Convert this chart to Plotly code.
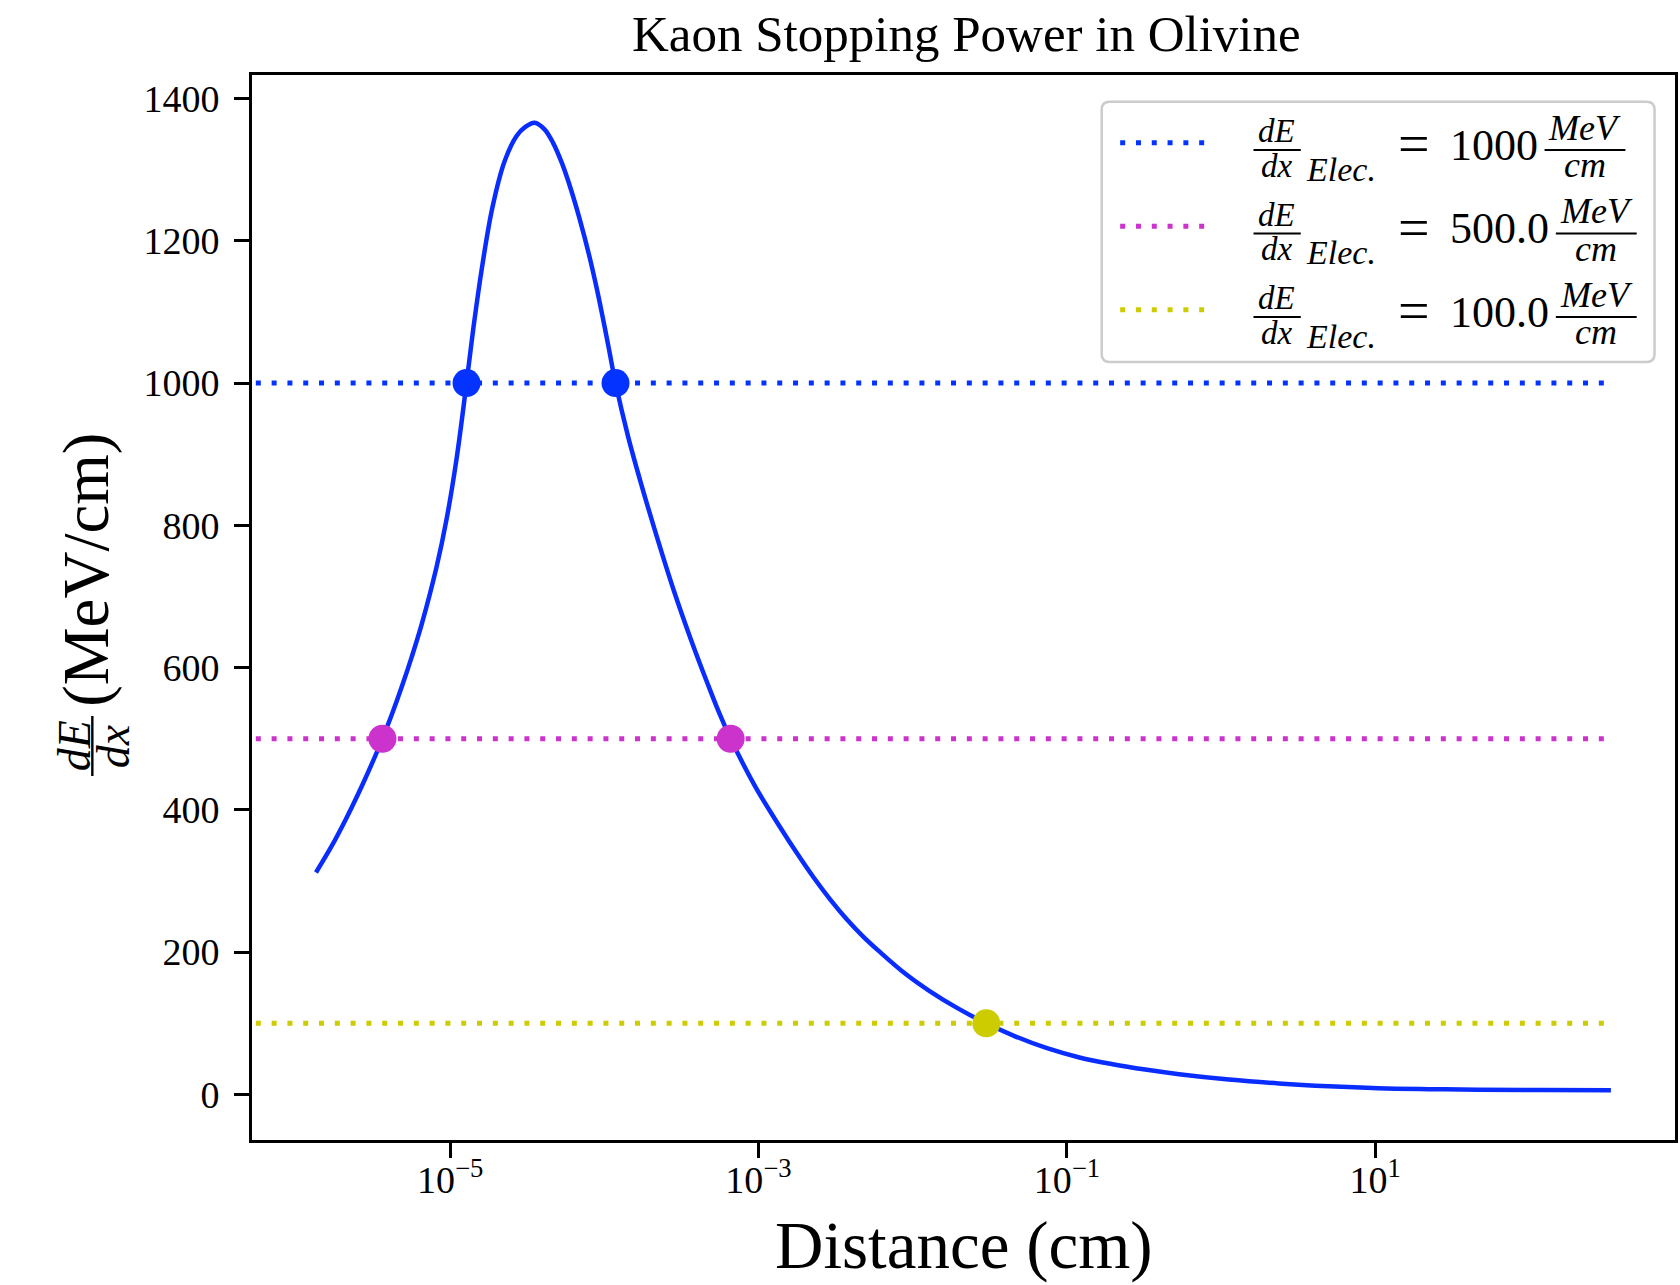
import plotly.graph_objects as go

# ---------------- data ----------------
distance_cm = [1.349e-6, 1.714e-6, 2.064e-6, 2.307e-6, 2.695e-6, 3.110e-6, 3.640e-6, 4.186e-6,
               4.857e-6, 5.637e-6, 6.544e-6, 8.180e-6, 9.493e-6, 1.102e-5, 1.278e-5, 1.419e-5,
               1.622e-5, 1.882e-5, 2.250e-5, 2.691e-5, 3.076e-5, 3.533e-5, 4.083e-5, 4.645e-5,
               5.336e-5, 6.100e-5, 6.975e-5, 8.011e-5, 8.851e-5, 9.779e-5, 1.074e-4, 1.183e-4,
               1.426e-4, 1.730e-4, 2.214e-4, 2.838e-4, 3.640e-4, 4.667e-4, 5.521e-4, 6.602e-4,
               9.576e-4, 1.389e-3, 1.779e-3, 2.281e-3, 2.924e-3, 3.750e-3, 4.779e-3, 6.156e-3,
               8.931e-3, 1.296e-2, 1.966e-2, 3.004e-2, 4.661e-2, 7.357e-2, 0.1208, 0.1983,
               0.3226, 0.5353, 1.126, 2.371, 4.991, 10.50, 22.11, 46.53, 122.4, 338.3]
dEdx_MeV_per_cm = [312, 350, 383, 404, 435, 465, 500, 534,
                   573, 615, 661, 742, 809, 894, 1000, 1079,
                   1167, 1247, 1311, 1347, 1360, 1366, 1357, 1338,
                   1308, 1271, 1228, 1178, 1137, 1092, 1047, 1000,
                   925, 859, 781, 707, 640, 578, 538, 500,
                   432, 375, 339, 305, 274, 246, 222, 200,
                   170, 145, 121, 100, 81.4, 65.4, 52, 42.5,
                   35, 28.5, 21, 15.5, 11.5, 8.8, 7.5, 6.7, 6.2, 6.0]

threshold_values = [1000, 500.0, 100.0]
threshold_labels = ["1000", "500.0", "100.0"]
crossing_distance = [[1.278e-5, 1.183e-4], [3.640e-6, 6.602e-4], [3.004e-2]]

x_tick_vals = [1e-5, 1e-3, 1e-1, 1e1]
x_tick_text = ["10<sup>−5</sup>", "10<sup>−3</sup>", "10<sup>−1</sup>", "10<sup>1</sup>"]
y_tick_vals = [0, 200, 400, 600, 800, 1000, 1200, 1400]

title_text = "Kaon Stopping Power in Olivine"
x_title = "Distance (cm)"
y_title_unit = "(MeV/cm)"

# ---------------- style ----------------
COLORS = ["#0433ff", "#cc33cc", "#cccc00"]
CURVE = "#0a2dff"
FONT = "Liberation Serif"
W, H = 1680, 1285
L, R, T, B = 252, 1678, 75, 1140
X_RANGE = [-6.285, 2.945]
Y_RANGE = [-64, 1433]
DOT = "5px,10.8px"


def fx(p):
    return (p - L) / (R - L)


def fy(p):
    return (B - p) / (B - T)


fig = go.Figure()

# horizontal dotted threshold lines (start beyond the left edge, end at last distance)
x_far_left = 10 ** (X_RANGE[0] - 1)
for v, c in zip(threshold_values, COLORS):
    fig.add_trace(go.Scatter(x=[x_far_left, distance_cm[-1]], y=[v, v], mode="lines",
                             line=dict(color=c, width=5, dash=DOT),
                             showlegend=False, hoverinfo="skip"))

# stopping power curve
fig.add_trace(go.Scatter(x=distance_cm, y=dEdx_MeV_per_cm, mode="lines",
                         line=dict(color=CURVE, width=4.5, shape="spline", smoothing=1.0),
                         showlegend=False))

# crossing markers
for v, xs, c in zip(threshold_values, crossing_distance, COLORS):
    fig.add_trace(go.Scatter(x=xs, y=[v] * len(xs), mode="markers",
                             marker=dict(color=c, size=28, line=dict(width=0)),
                             showlegend=False))

annotations = []
shapes = []


def text(x, y, s, size, xanchor="center", angle=0):
    annotations.append(dict(x=fx(x), y=fy(y), xref="paper", yref="paper", text=s,
                            showarrow=False, xanchor=xanchor, yanchor="middle",
                            textangle=angle, borderpad=0,
                            font=dict(family=FONT, size=size, color="black")))


def hline(x0, x1, y, color="black", width=2.2, dash=None):
    ln = dict(color=color, width=width)
    if dash:
        ln["dash"] = dash
    shapes.append(dict(type="line", xref="paper", yref="paper", x0=fx(x0), x1=fx(x1),
                       y0=fy(y), y1=fy(y), line=ln, layer="above"))


def vline(x, y0, y1, color="black", width=2.4):
    shapes.append(dict(type="line", xref="paper", yref="paper", x0=fx(x), x1=fx(x),
                       y0=fy(y0), y1=fy(y1), line=dict(color=color, width=width), layer="above"))


# ---------------- custom legend ----------------
bx0, bx1, by0, by1, rr = 1103.5, 1657.5, 101.8, 362, 8


def P(x, y):
    return f"{fx(x):.5f},{fy(y):.5f}"


path = (f"M {P(bx0 + rr, by0)} L {P(bx1 - rr, by0)} Q {P(bx1, by0)} {P(bx1, by0 + rr)} "
        f"L {P(bx1, by1 - rr)} Q {P(bx1, by1)} {P(bx1 - rr, by1)} "
        f"L {P(bx0 + rr, by1)} Q {P(bx0, by1)} {P(bx0, by1 - rr)} "
        f"L {P(bx0, by0 + rr)} Q {P(bx0, by0)} {P(bx0 + rr, by0)} Z")
shapes.append(dict(type="path", xref="paper", yref="paper", path=path,
                   fillcolor="rgba(255,255,255,0.8)", line=dict(color="#cccccc", width=2.5),
                   layer="above"))

row_y = [142.7, 226.2, 309.7]
frac_left = [1547.3, 1558.6, 1558.6]
for i, (lab, c) in enumerate(zip(threshold_labels, COLORS)):
    y = row_y[i]
    hline(1122, 1207, y, color=c, width=5, dash=DOT)
    # dE/dx fraction
    text(1278.5, y - 11.5, "<i>dE</i>", 33)
    hline(1255.6, 1303, y + 7.3)
    text(1279, y + 23, "<i>dx</i>", 33)
    text(1307.5, y + 26.5, "<i>Elec.</i>", 34, xanchor="left")
    text(1416.5, y + 1.7, "=", 56)
    text(1451.3, y + 2.5, lab, 44, xanchor="left")
    fl = frac_left[i]
    text(fl + 40.5, y - 14.8, "<i>MeV</i>", 36)
    hline(fl, fl + 81, y + 7.3)
    text(fl + 40.5, y + 22.5, "<i>cm</i>", 36)

# ---------------- y-axis label (rotated) ----------------
text(85.5, 570, y_title_unit, 65, angle=-90)
text(74, 746, "<i>dE</i>", 46, angle=-90)
vline(92, 716, 776)
text(113, 746, "<i>dx</i>", 46, angle=-90)

# ---------------- x-axis label ----------------
text((L + R) / 2, 1245, x_title, 67)

axis_common = dict(showline=True, linewidth=3, linecolor="black", mirror=True,
                   ticks="outside", ticklen=15, tickwidth=3, tickcolor="black",
                   showgrid=False, zeroline=False,
                   tickfont=dict(family=FONT, size=38, color="black"))

fig.update_layout(
    width=W, height=H, autosize=False,
    margin=dict(l=L, r=W - R, t=T, b=H - B, pad=0),
    paper_bgcolor="white", plot_bgcolor="white",
    title=dict(text=title_text, x=0.502, xref="paper", xanchor="center",
               y=1 - 33 / H, yref="container", yanchor="middle",
               font=dict(family=FONT, size=51, color="black")),
    xaxis=dict(type="log", range=X_RANGE, tickvals=x_tick_vals, ticktext=x_tick_text,
               ticklabelstandoff=-11, **axis_common),
    yaxis=dict(range=Y_RANGE, tickvals=y_tick_vals, ticklabelstandoff=7, **axis_common),
    annotations=annotations,
    shapes=shapes,
    showlegend=False,
)

fig.write_html("out.html")
